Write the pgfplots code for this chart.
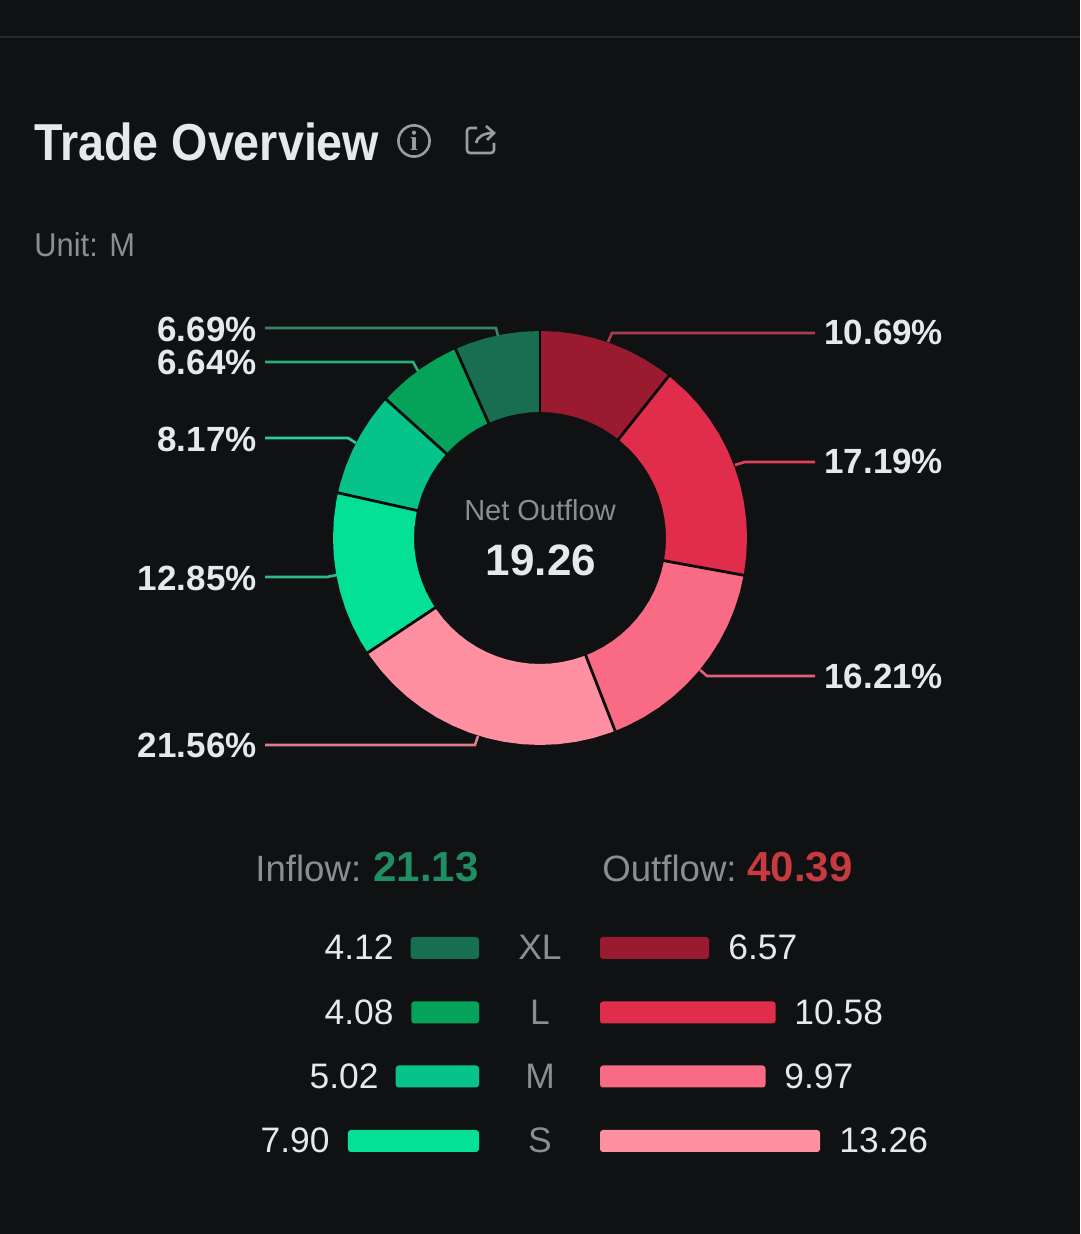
\documentclass[border=0pt]{standalone}
\usepackage{fontspec}
\setmainfont{Liberation Sans}
\newfontfamily\serifi{Liberation Serif}
\usepackage{pgfplots}
\pgfplotsset{compat=1.18}
\definecolor{bg}{HTML}{0F1113}
\definecolor{gap}{HTML}{0B0B0D}
\definecolor{rule}{HTML}{26282A}
\definecolor{txt}{HTML}{E6E8EA}
\definecolor{grey}{HTML}{8B8D90}
\definecolor{icon}{HTML}{9A9C9F}
\definecolor{rXL}{HTML}{9A1B30}
\definecolor{rL}{HTML}{E02D4C}
\definecolor{rM}{HTML}{F96A85}
\definecolor{rS}{HTML}{FF90A2}
\definecolor{gXL}{HTML}{176E50}
\definecolor{gL}{HTML}{05A25A}
\definecolor{gM}{HTML}{06C489}
\definecolor{gS}{HTML}{04E096}
\newcommand{\fs}[1]{\fontsize{#1}{#1}\selectfont}
\begin{document}
\begin{tikzpicture}
\begin{axis}[
  scale only axis, width=540pt, height=617pt,
  xmin=-540, xmax=540, ymin=-696, ymax=538,
  hide axis, clip=true]
% background and top rule
\addplot[draw=none, fill=bg, forget plot] coordinates {(-540,-696)(540,-696)(540,538)(-540,538)} -- cycle;
\addplot[draw=rule, line width=0.7pt, forget plot] coordinates {(-540,501)(540,501)};
% donut sectors, polar coordinates: angle, radius
\addplot[data cs=polar, draw=none, fill=rXL] coordinates {(90,207)(85,207)(80,207)(75,207)(70,207)(65,207)(60,207)(55,207)(51.52,207)(51.52,126)(55,126)(60,126)(65,126)(70,126)(75,126)(80,126)(85,126)(90,126)} -- cycle;
\addplot[data cs=polar, draw=none, fill=rL] coordinates {(51.52,207)(45,207)(40,207)(35,207)(30,207)(25,207)(20,207)(15,207)(10,207)(5,207)(0,207)(-5,207)(-10,207)(-10.37,207)(-10.37,126)(-10,126)(-5,126)(0,126)(5,126)(10,126)(15,126)(20,126)(25,126)(30,126)(35,126)(40,126)(45,126)(51.52,126)} -- cycle;
\addplot[data cs=polar, draw=none, fill=rM] coordinates {(-10.37,207)(-15,207)(-20,207)(-25,207)(-30,207)(-35,207)(-40,207)(-45,207)(-50,207)(-55,207)(-60,207)(-65,207)(-68.72,207)(-68.72,126)(-65,126)(-60,126)(-55,126)(-50,126)(-45,126)(-40,126)(-35,126)(-30,126)(-25,126)(-20,126)(-15,126)(-10.37,126)} -- cycle;
\addplot[data cs=polar, draw=none, fill=rS] coordinates {(-68.72,207)(-70,207)(-75,207)(-80,207)(-85,207)(-90,207)(-95,207)(-100,207)(-105,207)(-110,207)(-115,207)(-120,207)(-125,207)(-130,207)(-135,207)(-140,207)(-145,207)(-146.34,207)(-146.34,126)(-145,126)(-140,126)(-135,126)(-130,126)(-125,126)(-120,126)(-115,126)(-110,126)(-105,126)(-100,126)(-95,126)(-90,126)(-85,126)(-80,126)(-75,126)(-70,126)(-68.72,126)} -- cycle;
\addplot[data cs=polar, draw=none, fill=gS] coordinates {(-146.34,207)(-150,207)(-155,207)(-160,207)(-165,207)(-170,207)(-175,207)(-180,207)(-185,207)(-190,207)(-192.6,207)(-192.6,126)(-190,126)(-185,126)(-180,126)(-175,126)(-170,126)(-165,126)(-160,126)(-155,126)(-150,126)(-146.34,126)} -- cycle;
\addplot[data cs=polar, draw=none, fill=gM] coordinates {(-192.6,207)(-195,207)(-200,207)(-205,207)(-210,207)(-215,207)(-220,207)(-222.01,207)(-222.01,126)(-220,126)(-215,126)(-210,126)(-205,126)(-200,126)(-195,126)(-192.6,126)} -- cycle;
\addplot[data cs=polar, draw=none, fill=gL] coordinates {(-222.01,207)(-225,207)(-230,207)(-235,207)(-240,207)(-245,207)(-245.92,207)(-245.92,126)(-245,126)(-240,126)(-235,126)(-230,126)(-225,126)(-222.01,126)} -- cycle;
\addplot[data cs=polar, draw=none, fill=gXL] coordinates {(-245.92,207)(-250,207)(-255,207)(-260,207)(-265,207)(-270,207)(-270,126)(-265,126)(-260,126)(-255,126)(-250,126)(-245.92,126)} -- cycle;
% dividers
\addplot[data cs=polar, draw=gap, line width=1.4pt] coordinates {(51.52,125)(51.52,208)};
\addplot[data cs=polar, draw=gap, line width=1.4pt] coordinates {(-10.37,125)(-10.37,208)};
\addplot[data cs=polar, draw=gap, line width=1.4pt] coordinates {(-68.72,125)(-68.72,208)};
\addplot[data cs=polar, draw=gap, line width=1.4pt] coordinates {(-146.34,125)(-146.34,208)};
\addplot[data cs=polar, draw=gap, line width=1.4pt] coordinates {(-192.6,125)(-192.6,208)};
\addplot[data cs=polar, draw=gap, line width=1.4pt] coordinates {(-222.01,125)(-222.01,208)};
\addplot[data cs=polar, draw=gap, line width=1.4pt] coordinates {(-245.92,125)(-245.92,208)};
\addplot[data cs=polar, draw=gap, line width=0.6pt] coordinates {(90,125)(90,208)};
% leader lines
\addplot[draw=gXL!85!white, line width=1.3pt] coordinates {(-275,210)(-44,210)(-42,202)};
\addplot[draw=gL!85!white, line width=1.3pt] coordinates {(-275,176)(-127,176)(-122,167)};
\addplot[draw=gM!85!white, line width=1.3pt] coordinates {(-275,100)(-192,100)(-184,95)};
\addplot[draw={rgb,255:red,48;green,184;blue,136}, line width=1.3pt] coordinates {(-275,-39)(-213,-39)(-203,-37)};
\addplot[draw=rS!85!bg, line width=1.3pt] coordinates {(-275,-207)(-65,-207)(-62,-198)};
\addplot[draw=rXL!85!white, line width=1.3pt] coordinates {(275,205)(72,205)(68,196)};
\addplot[draw=rL!90!white, line width=1.3pt] coordinates {(275,76)(205,76)(195,73)};
\addplot[draw=rM!90!bg, line width=1.3pt] coordinates {(275,-138)(167,-138)(160,-132)};
% legend bars: length = 16.6 px per unit
\addplot[draw=none, fill=gXL, rounded corners=1.5pt] coordinates {(-129.4,-399)(-61,-399)(-61,-421)(-129.4,-421)} -- cycle;
\addplot[draw=none, fill=gL, rounded corners=1.5pt] coordinates {(-128.7,-463.5)(-61,-463.5)(-61,-485.5)(-128.7,-485.5)} -- cycle;
\addplot[draw=none, fill=gM, rounded corners=1.5pt] coordinates {(-144.3,-527.5)(-61,-527.5)(-61,-549.5)(-144.3,-549.5)} -- cycle;
\addplot[draw=none, fill=gS, rounded corners=1.5pt] coordinates {(-192.1,-592)(-61,-592)(-61,-614)(-192.1,-614)} -- cycle;
\addplot[draw=none, fill=rXL, rounded corners=1.5pt] coordinates {(60,-399)(169.1,-399)(169.1,-421)(60,-421)} -- cycle;
\addplot[draw=none, fill=rL, rounded corners=1.5pt] coordinates {(60,-463.5)(235.6,-463.5)(235.6,-485.5)(60,-485.5)} -- cycle;
\addplot[draw=none, fill=rM, rounded corners=1.5pt] coordinates {(60,-527.5)(225.5,-527.5)(225.5,-549.5)(60,-549.5)} -- cycle;
\addplot[draw=none, fill=rS, rounded corners=1.5pt] coordinates {(60,-592)(280.1,-592)(280.1,-614)(60,-614)} -- cycle;
% title and unit
\node[anchor=base west, inner sep=0, text=txt, font=\fs{26}\bfseries] at (axis cs:-506,377) {\scalebox{.897}[1]{Trade Overview}};
\node[anchor=base west, inner sep=0, text=grey, font=\fs{16.5}] at (axis cs:-506,281) {\scalebox{.935}[1]{Unit: M}};
% icons
\draw[icon, line width=1.3pt] (axis cs:-126,397) circle[radius=7.8pt];
\node[inner sep=0, text=icon, font=\fs{14}\serifi\bfseries] at (axis cs:-126,397) {i};
\draw[icon, line width=1.3pt, rounded corners=1.5pt] (axis cs:-63,410) -- (axis cs:-73,410) -- (axis cs:-73,385) -- (axis cs:-46,385) -- (axis cs:-46,395);
\draw[icon, line width=1.3pt] (axis cs:-64,395) .. controls (axis cs:-63,401) and (axis cs:-56,405) .. (axis cs:-47,405) (axis cs:-54,412) -- (axis cs:-46,405) -- (axis cs:-53,398);
% percentages
\newcommand{\pl}[3]{\node[anchor=base east, inner sep=0, text=txt, font=\fs{17.5}\bfseries] at (axis cs:#1,#2) {#3};}
\newcommand{\pr}[3]{\node[anchor=base west, inner sep=0, text=txt, font=\fs{17.5}\bfseries] at (axis cs:#1,#2) {#3};}
\pl{-283}{196}{6.69\%}
\pl{-283}{163}{6.64\%}
\pl{-283}{86}{8.17\%}
\pl{-283}{-53}{12.85\%}
\pl{-283}{-220}{21.56\%}
\pr{284}{193}{10.69\%}
\pr{284}{64}{17.19\%}
\pr{284}{-151}{16.21\%}
% centre
\node[anchor=base, inner sep=0, text=grey, font=\fs{14.5}] at (axis cs:0,17) {Net Outflow};
\node[anchor=base, inner sep=0, text=txt, font=\fs{22}\bfseries] at (axis cs:1,-38) {19.26};
% totals
\node[anchor=base west, inner sep=0, text=grey, font=\fs{18.3}] at (axis cs:-285,-344) {Inflow:};
\node[anchor=base east, inner sep=0, text={rgb,255:red,31;green,143;blue,99}, font=\fs{21}\bfseries] at (axis cs:-61,-344) {21.13};
\node[anchor=base west, inner sep=0, text=grey, font=\fs{18.3}] at (axis cs:62,-344) {Outflow:};
\node[anchor=base east, inner sep=0, text={rgb,255:red,201;green,58;blue,64}, font=\fs{21}\bfseries] at (axis cs:313,-344) {40.39};
% rows
\newcommand{\vl}[3]{\node[anchor=base east, inner sep=0, text=txt, font=\fs{17.7}] at (axis cs:#1,#2) {#3};}
\newcommand{\vr}[3]{\node[anchor=base west, inner sep=0, text=txt, font=\fs{17.7}] at (axis cs:#1,#2) {#3};}
\newcommand{\cat}[2]{\node[anchor=base, inner sep=0, text=grey, font=\fs{17.7}] at (axis cs:0,#1) {#2};}
\vl{-146}{-422}{4.12}\cat{-422}{XL}\vr{188}{-422}{6.57}
\vl{-146}{-487}{4.08}\cat{-487}{L}\vr{254}{-487}{10.58}
\vl{-161}{-551}{5.02}\cat{-551}{M}\vr{244}{-551}{9.97}
\vl{-210}{-615}{7.90}\cat{-615}{S}\vr{299}{-615}{13.26}
\end{axis}
\end{tikzpicture}
\end{document}
